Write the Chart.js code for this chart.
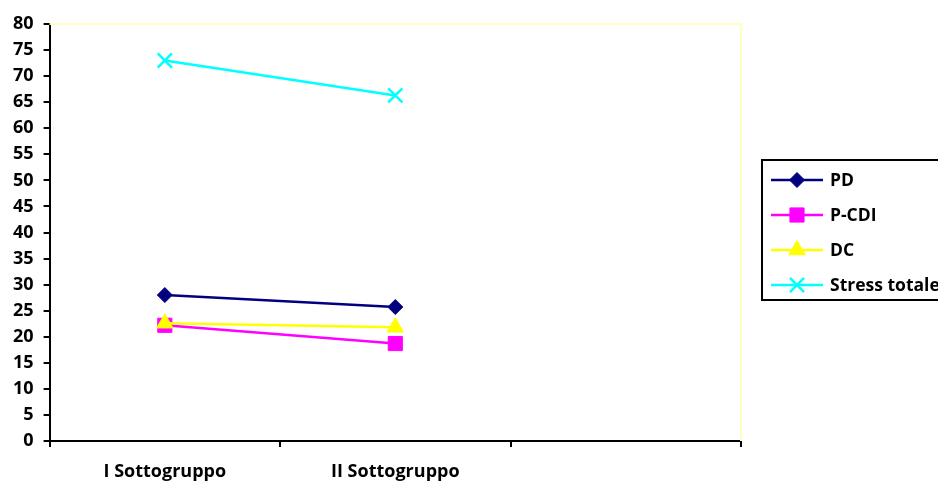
<!DOCTYPE html>
<html>
<head>
<meta charset="utf-8">
<script src="https://cdn.jsdelivr.net/npm/chart.js@4"></script>
<style>
  html, body { margin: 0; padding: 0; background: #fff; }
  #wrap { width: 938px; height: 483px; }
</style>
</head>
<body>
<div id="wrap"><canvas id="myChart" width="938" height="483"></canvas></div>
<script>
const categories = ['I Sottogruppo', 'II Sottogruppo', ''];
const pd = [28, 25.7, null];
const pCdi = [22.2, 18.7, null];
const dc = [22.6, 21.8, null];
const stressTotale = [73, 66.3, null];

const FONT = '"Open Sans", Lato, sans-serif';

// border on top/right of plot area (pale yellow)
const plotBorder = {
    id: 'plotBorder',
    beforeDatasetsDraw(chart) {
        const { ctx, chartArea: a } = chart;
        ctx.save();
        ctx.strokeStyle = '#ffffc4';
        ctx.lineWidth = 2;
        ctx.beginPath();
        ctx.moveTo(a.left, a.top);
        ctx.lineTo(a.right, a.top);
        ctx.lineTo(a.right, a.bottom);
        ctx.stroke();
        ctx.restore();
    }
};

// legend drawn as line + marker, box cut at the right edge
const boxLegend = {
    id: 'boxLegend',
    afterDraw(chart) {
        const ctx = chart.ctx;
        const x0 = 762, y0 = 160, w = 190, h = 140;
        ctx.save();
        ctx.fillStyle = '#fff';
        ctx.fillRect(x0, y0, w, h);
        ctx.strokeStyle = '#000';
        ctx.lineWidth = 2;
        ctx.strokeRect(x0, y0, w, h);
        chart.data.datasets.forEach((ds, i) => {
            const y = y0 + 20 + i * 35;
            ctx.strokeStyle = ds.borderColor;
            ctx.fillStyle = ds.borderColor;
            ctx.lineWidth = 2.5;
            ctx.beginPath();
            ctx.moveTo(771, y);
            ctx.lineTo(823, y);
            ctx.stroke();
            ctx.lineWidth = ds.pointBorderWidth || 1;
            Chart.helpers.drawPoint(ctx, {
                pointStyle: ds.pointStyle,
                radius: ds.pointRadius,
                borderWidth: ds.pointBorderWidth || 1
            }, 797, y);
            ctx.fillStyle = '#000';
            ctx.font = 'bold 17.5px ' + FONT;
            ctx.textBaseline = 'middle';
            ctx.fillText(ds.label, 830, y + 1);
        });
        ctx.restore();
    }
};

function series(label, data, color, style, radius, order, extra) {
    return Object.assign({
        label: label,
        data: data,
        order: order,
        borderColor: color,
        backgroundColor: color,
        pointBackgroundColor: color,
        pointBorderColor: color,
        borderWidth: 2.5,
        pointStyle: style,
        pointRadius: radius,
        pointHoverRadius: radius,
        pointBorderWidth: 1,
        tension: 0
    }, extra || {});
}

new Chart(document.getElementById('myChart'), {
    type: 'line',
    data: {
        labels: categories,
        datasets: [
            series('PD', pd, '#000080', 'rectRot', 7.5, 4),
            series('P-CDI', pCdi, '#ff00ff', 'rect', 10, 3),
            series('DC', dc, '#ffff00', 'triangle', 9.5, 2),
            series('Stress totale', stressTotale, '#00ffff', 'crossRot', 10, 1, { pointBorderWidth: 2.5 })
        ]
    },
    options: {
        responsive: false,
        animation: false,
        layout: { padding: { left: 3, right: 197, top: 24, bottom: 2 } },
        plugins: {
            legend: { display: false },
            tooltip: { enabled: false }
        },
        scales: {
            x: {
                offset: true,
                border: { color: '#000', width: 2 },
                grid: { offset: true, drawOnChartArea: false, drawTicks: true, tickLength: 6, color: '#000', lineWidth: 2 },
                ticks: { color: '#000', font: { family: FONT, size: 18, weight: 'bold' }, padding: 14, maxRotation: 0 },
                afterFit(axis) { axis.height = 40; }
            },
            y: {
                min: 0,
                max: 80,
                border: { color: '#000', width: 2 },
                grid: { drawOnChartArea: false, drawTicks: true, tickLength: 6, color: '#000', lineWidth: 2 },
                ticks: { stepSize: 5, color: '#000', font: { family: FONT, size: 18, weight: 'bold' }, padding: 10 }
            }
        }
    },
    plugins: [plotBorder, boxLegend]
});
</script>
</body>
</html>
